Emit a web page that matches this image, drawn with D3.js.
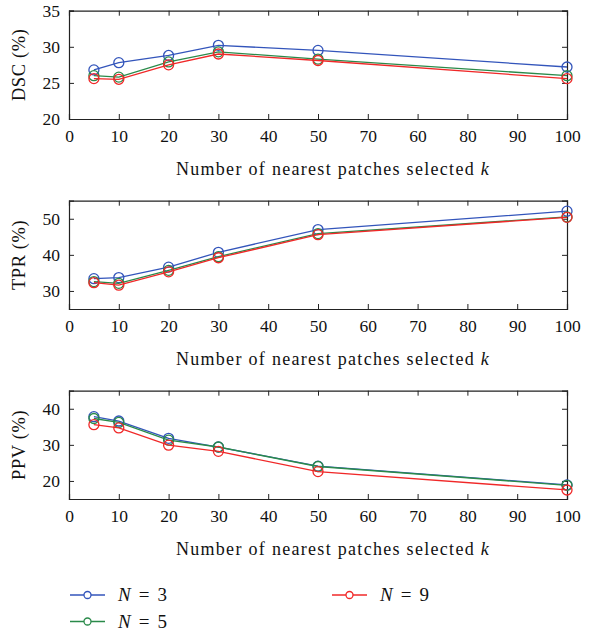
<!DOCTYPE html>
<html>
<head>
<meta charset="utf-8">
<script src="https://cdn.jsdelivr.net/npm/d3@7"></script>
<style>
  body { margin: 0; background: #fff; }
  svg text { font-family: "Liberation Serif", "DejaVu Serif", serif; fill: #111; }
</style>
</head>
<body>
<div id="chart"></div>
<script>
// k values (x axis)
var kValues = [5, 10, 20, 30, 50, 100];

// DSC (%)
var dscN3 = [26.8, 27.8, 28.8, 30.2, 29.5, 27.2];
var dscN5 = [26.0, 25.8, 27.9, 29.3, 28.3, 26.0];
var dscN9 = [25.6, 25.5, 27.5, 29.0, 28.1, 25.6];

// TPR (%)
var tprN3 = [33.4, 33.7, 36.6, 40.7, 47.0, 52.1];
var tprN5 = [32.6, 32.1, 35.7, 39.5, 45.9, 50.5];
var tprN9 = [32.3, 31.6, 35.3, 39.2, 45.6, 50.4];

// PPV (%)
var ppvN3 = [37.8, 36.6, 31.8, 29.4, 24.1, 18.9];
var ppvN5 = [37.3, 36.2, 31.3, 29.4, 24.0, 18.8];
var ppvN9 = [35.6, 34.7, 29.9, 28.2, 22.6, 17.5];

// tick labels as printed (first panel has 60/70 swapped in the original)
var xTicks = [0, 10, 20, 30, 40, 50, 60, 70, 80, 90, 100];
var xLabelsTop = ["0", "10", "20", "30", "40", "50", "70", "60", "80", "90", "100"];
var xLabels = ["0", "10", "20", "30", "40", "50", "60", "70", "80", "90", "100"];

var seriesNames = ["3", "5", "9"];
var colors = ["#3355bb", "#2a8a4a", "#f02828"];

var panels = [
    {label: "DSC (%)", series: [dscN3, dscN5, dscN9], domain: [20, 35], ticks: [20, 25, 30, 35], xl: xLabelsTop, top: 10.7},
    {label: "TPR (%)", series: [tprN3, tprN5, tprN9], domain: [25, 55], ticks: [30, 40, 50], xl: xLabels, top: 200.7},
    {label: "PPV (%)", series: [ppvN3, ppvN5, ppvN9], domain: [15, 45], ticks: [20, 30, 40], xl: xLabels, top: 390.7}
];

var W = 611, H = 637;
var left = 69, plotW = 498, plotH = 108.3;
var serif = "'Liberation Serif', 'DejaVu Serif', serif";

var svg = d3.select("#chart").append("svg")
    .attr("width", W)
    .attr("height", H)
    .attr("font-family", serif);

var x = d3.scaleLinear().domain([0, 100]).range([0, plotW]);

panels.forEach(function(p) {
    var g = svg.append("g")
        .attr("transform", "translate(" + left + "," + p.top + ")");

    var y = d3.scaleLinear().domain(p.domain).range([plotH, 0]);

    // inward ticks on all four sides
    var xAxisB = d3.axisBottom(x).tickValues(xTicks).tickSize(-5).tickPadding(11)
        .tickFormat(function(d, i) { return p.xl[i]; });
    var xAxisT = d3.axisTop(x).tickValues(xTicks).tickSize(-5).tickFormat("");
    var yAxisL = d3.axisLeft(y).tickValues(p.ticks).tickSize(-5).tickPadding(9);
    var yAxisR = d3.axisRight(y).tickValues(p.ticks).tickSize(-5).tickFormat("");

    g.append("g").attr("transform", "translate(0," + plotH + ")").call(xAxisB);
    g.append("g").call(xAxisT);
    g.append("g").call(yAxisL);
    g.append("g").attr("transform", "translate(" + plotW + ",0)").call(yAxisR);

    g.selectAll("g").attr("font-family", serif);
    g.selectAll(".domain").attr("stroke", "#222").attr("stroke-width", 1.2);
    g.selectAll(".tick line").attr("stroke", "#222");
    g.selectAll(".tick text")
        .attr("font-family", serif)
        .attr("font-size", 17.5)
        .attr("fill", "#111");

    // y label
    g.append("text")
        .attr("transform", "translate(" + (-44) + "," + (plotH / 2) + ") rotate(-90)")
        .attr("text-anchor", "middle")
        .attr("font-size", 18.5)
        .attr("letter-spacing", 0.6)
        .text(p.label);

    // x label
    var xl = g.append("text")
        .attr("x", plotW / 2 + 15)
        .attr("y", plotH + 56)
        .attr("text-anchor", "middle")
        .attr("font-size", 18)
        .attr("letter-spacing", 1.3);
    xl.append("tspan").text("Number of nearest patches selected ");
    xl.append("tspan").attr("font-style", "italic").text("k");

    var line = d3.line()
        .x(function(d, i) { return x(kValues[i]); })
        .y(function(d) { return y(d); });

    p.series.forEach(function(s, si) {
        g.append("path")
            .datum(s)
            .attr("fill", "none")
            .attr("stroke", colors[si])
            .attr("stroke-width", 1.3)
            .attr("d", line);

        g.selectAll(".m" + si)
            .data(s)
            .enter().append("circle")
            .attr("class", "m" + si)
            .attr("cx", function(d, i) { return x(kValues[i]); })
            .attr("cy", function(d) { return y(d); })
            .attr("r", 5)
            .attr("fill", "none")
            .attr("stroke", colors[si])
            .attr("stroke-width", 1.3);
    });
});

// legend
var legendPos = [[70, 595], [70, 621.5], [332, 595]];
seriesNames.forEach(function(n, i) {
    var lg = svg.append("g")
        .attr("transform", "translate(" + legendPos[i][0] + "," + legendPos[i][1] + ")");
    lg.append("line")
        .attr("x1", 0).attr("x2", 35)
        .attr("stroke", colors[i]).attr("stroke-width", 1.3);
    lg.append("circle")
        .attr("cx", 17.5).attr("r", 3.5)
        .attr("fill", "#fff")
        .attr("stroke", colors[i]).attr("stroke-width", 1.3);
    var t = lg.append("text")
        .attr("x", 48).attr("y", 6)
        .attr("font-size", 19);
    t.append("tspan").attr("font-style", "italic").text("N");
    t.append("tspan").attr("dx", 8).text("=");
    t.append("tspan").attr("dx", 8).text(n);
});
</script>
</body>
</html>
